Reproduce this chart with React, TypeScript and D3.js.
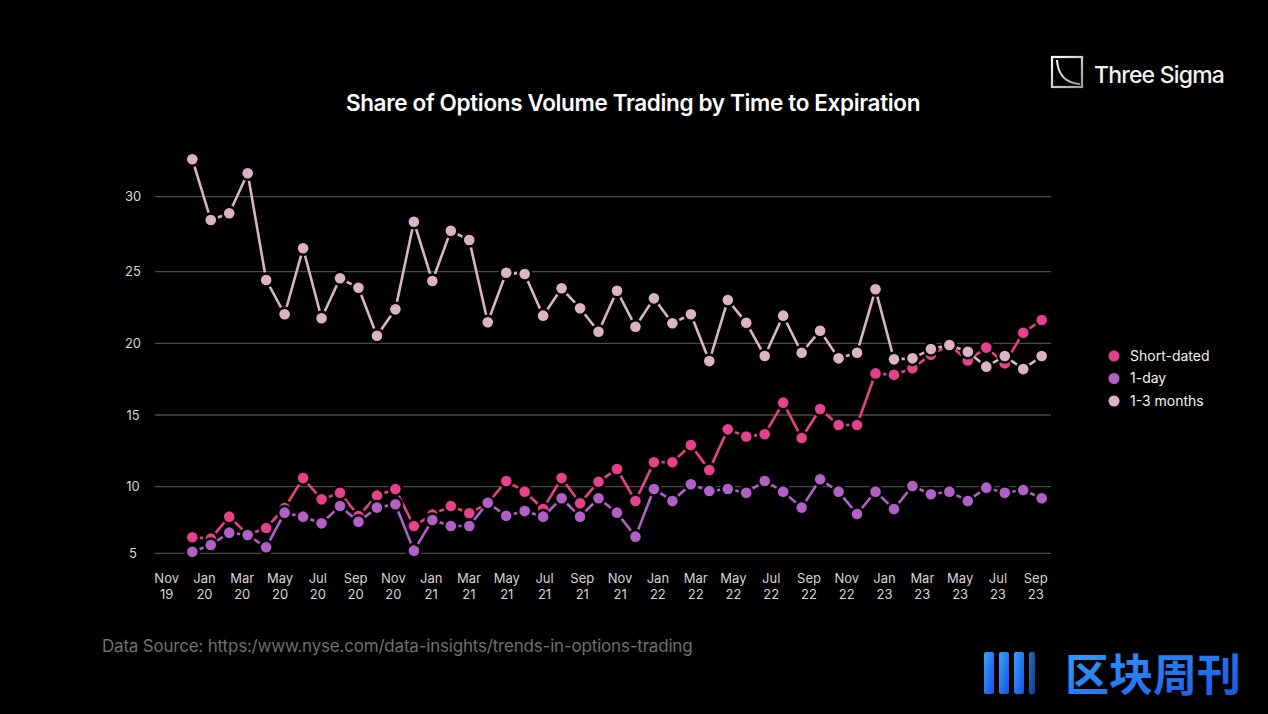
import React from "react";
import * as d3 from "d3";

const categories = [
  "Nov 19","Dec 19",
  "Jan 20","Feb 20","Mar 20","Apr 20","May 20","Jun 20","Jul 20","Aug 20","Sep 20","Oct 20","Nov 20","Dec 20",
  "Jan 21","Feb 21","Mar 21","Apr 21","May 21","Jun 21","Jul 21","Aug 21","Sep 21","Oct 21","Nov 21","Dec 21",
  "Jan 22","Feb 22","Mar 22","Apr 22","May 22","Jun 22","Jul 22","Aug 22","Sep 22","Oct 22","Nov 22","Dec 22",
  "Jan 23","Feb 23","Mar 23","Apr 23","May 23","Jun 23","Jul 23","Aug 23","Sep 23",
];

const tickLabels = [
  "Nov 19","Jan 20","Mar 20","May 20","Jul 20","Sep 20","Nov 20",
  "Jan 21","Mar 21","May 21","Jul 21","Sep 21","Nov 21",
  "Jan 22","Mar 22","May 22","Jul 22","Sep 22","Nov 22",
  "Jan 23","Mar 23","May 23","Jul 23","Sep 23",
];

const yTicks = [5, 10, 15, 20, 25, 30];

const shortDated = [
  6.2, 6.1, 7.75, 6.4, 6.9, 8.4, 10.6, 9.05, 9.55, 7.8, 9.33, 9.83,
  7.05, 7.9, 8.55, 8.0, 8.75, 10.4, 9.63, 8.33, 10.6, 8.75, 10.35, 11.23,
  8.93, 11.7, 11.7, 12.9, 11.16, 14.0, 13.5, 13.66, 15.86, 13.4, 15.42, 14.3,
  14.3, 17.9, 17.8, 18.26, 19.2, 19.9, 18.8, 19.7, 18.6, 20.74, 21.63,
];

const oneDay = [
  5.12, 5.62, 6.55, 6.37, 5.45, 8.05, 7.75, 7.25, 8.55, 7.37, 8.43, 8.68,
  5.2, 7.5, 7.05, 7.05, 8.8, 7.82, 8.17, 7.75, 9.13, 7.75, 9.13, 8.05,
  6.25, 9.83, 8.93, 10.17, 9.68, 9.83, 9.55, 10.4, 9.63, 8.43, 10.52, 9.63,
  7.95, 9.63, 8.33, 10.05, 9.43, 9.63, 8.93, 9.93, 9.55, 9.75, 9.13,
];

const oneToThreeMonths = [
  32.5, 28.45, 28.9, 31.56, 24.42, 22.03, 26.56, 21.75, 24.54, 23.88, 20.53, 22.37,
  28.33, 24.35, 27.73, 27.11, 21.47, 24.93, 24.84, 21.93, 23.84, 22.45, 20.81, 23.67,
  21.16, 23.14, 21.4, 22.03, 18.76, 23.02, 21.44, 19.11, 21.93, 19.34, 20.88, 18.95,
  19.34, 23.77, 18.88, 18.95, 19.6, 19.88, 19.41, 18.37, 19.11, 18.2, 19.11,
];

const seriesNames = ["Short-dated", "1-day", "1-3 months"];
const seriesColors = ["#e8418b", "#b260c8", "#dcb3c5"];
const seriesValues = [shortDated, oneDay, oneToThreeMonths];

const W = 1268;
const H = 714;
const FONT = "Inter, 'Noto Sans', sans-serif";

export default function App() {
  const xData = d3.scalePoint<string>().domain(categories).range([192.3, 1041.7]);
  const xTick = d3.scalePoint<string>().domain(categories).range([166.7, 1035.7]);
  const y = d3
    .scaleLinear()
    .domain(yTicks)
    .range([553.3, 486.7, 415, 343.3, 271.7, 196.7]);

  const line = d3
    .line<number>()
    .x((_, i) => xData(categories[i]) as number)
    .y((d) => y(d));

  return (
    <svg
      width={W}
      height={H}
      style={{ position: "absolute", left: 0, top: 0, background: "#000", display: "block" }}
    >
      <rect x={0} y={0} width={W} height={H} fill="#000" />
      <defs>
        <linearGradient id="wm" x1="0" y1="0" x2="1" y2="1">
          <stop offset="0%" stopColor="#34a4f7" />
          <stop offset="100%" stopColor="#1c4fe6" />
        </linearGradient>
        <linearGradient id="logoG" x1="0" y1="0" x2="1" y2="1">
          <stop offset="0%" stopColor="#ffffff" />
          <stop offset="100%" stopColor="#9a9a9a" />
        </linearGradient>
      </defs>

      {/* Title */}
      <text
        x={633}
        y={111}
        textAnchor="middle"
        fill="#ffffff"
        fontFamily={FONT}
        fontWeight={600}
        fontSize={22.5}
        letterSpacing={-0.35}
      >
        Share of Options Volume Trading by Time to Expiration
      </text>

      {/* Logo */}
      <g>
        <rect x={1052} y={57} width={30} height={30} fill="none" stroke="url(#logoG)" strokeWidth={2.2} />
        <path d="M1057,60 C1058,76 1066,83 1080,84" fill="none" stroke="url(#logoG)" strokeWidth={2} />
        <text x={1094} y={83} fill="#f2f2f2" fontFamily={FONT} fontWeight={500} fontSize={23} letterSpacing={-0.8}>
          Three Sigma
        </text>
      </g>

      {/* Grid */}
      {yTicks.map((t) => (
        <g key={t}>
          <line x1={155} x2={1051} y1={y(t)} y2={y(t)} stroke="#4a4a4a" strokeWidth={1.3} />
          <text
            x={133}
            y={y(t)}
            dy="0.35em"
            textAnchor="middle"
            fill="#d4d4d4"
            fontFamily={FONT}
            fontSize={13}
          >
            {t}
          </text>
        </g>
      ))}

      {/* X tick labels */}
      {tickLabels.map((lab) => {
        const [m, yr] = lab.split(" ");
        const x = xTick(lab) as number;
        return (
          <text key={lab} x={x} textAnchor="middle" fill="#d4d4d4" fontFamily={FONT} fontSize={13}>
            <tspan x={x} y={583}>{m}</tspan>
            <tspan x={x} y={599}>{yr}</tspan>
          </text>
        );
      })}

      {/* Series */}
      {seriesValues.map((vals, si) => (
        <g key={seriesNames[si]}>
          <path d={line(vals) || ""} fill="none" stroke={seriesColors[si]} strokeWidth={2.6} strokeLinejoin="round" />
          {vals.map((v, i) => (
            <circle
              key={i}
              cx={xData(categories[i]) as number}
              cy={y(v)}
              r={5.3}
              fill={seriesColors[si]}
              stroke="#000"
              strokeWidth={5}
              style={{ paintOrder: "stroke" }}
            />
          ))}
        </g>
      ))}

      {/* Legend */}
      {seriesNames.map((name, i) => (
        <g key={name}>
          <circle cx={1114} cy={356 + i * 22.5} r={5.5} fill={seriesColors[i]} />
          <text x={1130} y={356 + i * 22.5} dy="0.35em" fill="#f0f0f0" fontFamily={FONT} fontSize={14}>
            {name}
          </text>
        </g>
      ))}

      {/* Source */}
      <text x={102} y={652} fill="#6f6f6f" fontFamily={FONT} fontSize={17} letterSpacing={-0.2}>
        Data Source: https:/www.nyse.com/data-insights/trends-in-options-trading
      </text>

      {/* Watermark */}
      <g>
        <rect x={984} y={652} width={10} height={42} rx={2} fill="url(#wm)" />
        <rect x={999} y={652} width={10} height={42} rx={2} fill="url(#wm)" />
        <rect x={1014} y={652} width={10} height={42} rx={2} fill="url(#wm)" />
        <rect x={1029} y={652} width={6} height={42} rx={2} fill="url(#wm)" opacity={0.7} />
        <text
          x={1241}
          y={691}
          textAnchor="end"
          fill="url(#wm)"
          fontFamily="'Noto Sans CJK SC', sans-serif"
          fontWeight={700}
          fontSize={44}
        >
          区块周刊
        </text>
      </g>
    </svg>
  );
}
